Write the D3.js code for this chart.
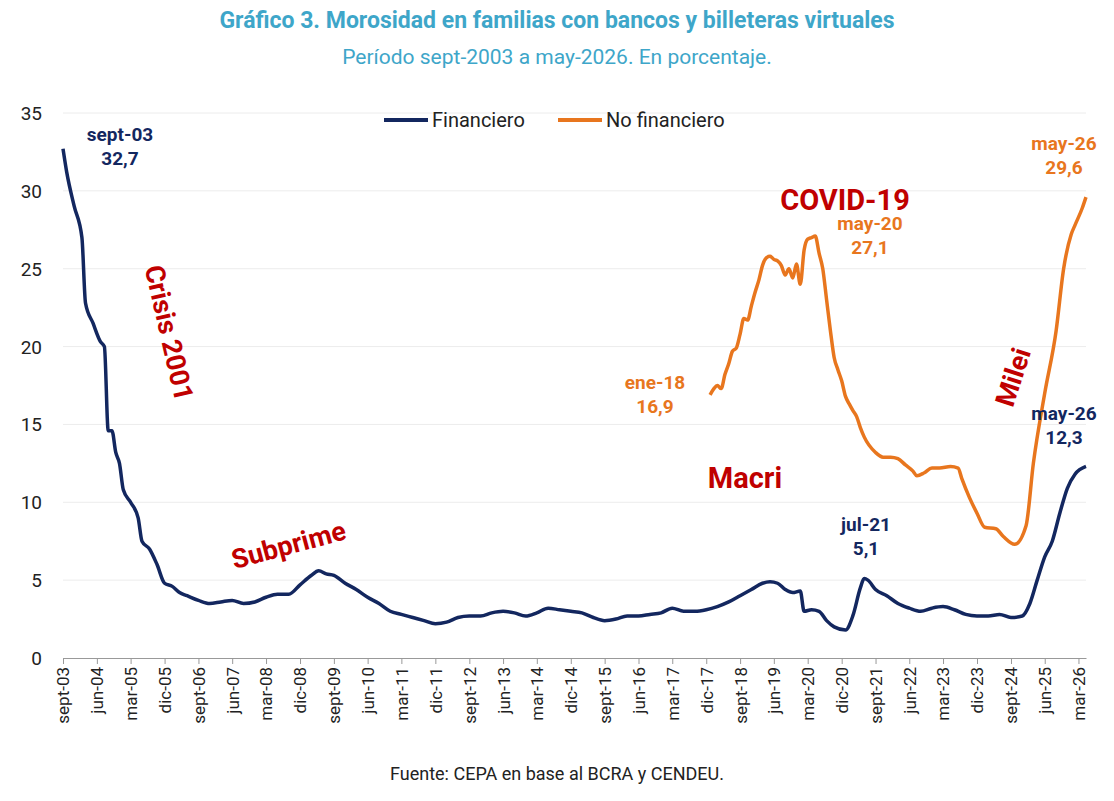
<!DOCTYPE html>
<html><head><meta charset="utf-8">
<script src="https://cdn.jsdelivr.net/npm/d3@7"></script>
<style>body{margin:0;background:#fff;font-family:Roboto,sans-serif;}</style>
</head><body>
<script>
// data
const finDates = ['2003-09','2003-10','2003-12','2004-02','2004-03','2004-05','2004-07','2004-08','2004-09','2004-10','2004-11','2004-12','2005-01','2005-03','2005-05','2005-06','2005-08','2005-10','2005-12','2006-02','2006-04','2006-06','2006-09','2006-12','2007-03','2007-06','2007-09','2007-12','2008-03','2008-06','2008-09','2008-12','2009-03','2009-05','2009-07','2009-09','2009-12','2010-03','2010-06','2010-09','2010-12','2011-03','2011-06','2011-09','2011-12','2012-03','2012-06','2012-09','2012-12','2013-03','2013-06','2013-09','2013-12','2014-03','2014-06','2014-09','2014-12','2015-03','2015-06','2015-09','2015-12','2016-03','2016-06','2016-09','2016-12','2017-03','2017-06','2017-09','2017-12','2018-03','2018-06','2018-09','2018-12','2019-03','2019-05','2019-07','2019-09','2019-11','2020-01','2020-02','2020-04','2020-06','2020-08','2020-10','2021-01','2021-03','2021-05','2021-06','2021-07','2021-09','2021-12','2022-03','2022-06','2022-09','2022-12','2023-03','2023-06','2023-09','2023-12','2024-03','2024-06','2024-09','2024-12','2025-02','2025-04','2025-06','2025-08','2025-10','2025-12','2026-02','2026-05'];
const finValues = [32.7,31.2,29.0,27.0,22.8,21.5,20.3,20.0,14.6,14.6,13.2,12.5,10.8,10.0,9.0,7.5,7.0,6.0,4.8,4.6,4.2,4.0,3.7,3.5,3.6,3.7,3.5,3.6,3.9,4.1,4.1,4.7,5.3,5.6,5.4,5.3,4.8,4.4,3.9,3.5,3.0,2.8,2.6,2.4,2.2,2.3,2.6,2.7,2.7,2.9,3.0,2.9,2.7,2.9,3.2,3.1,3.0,2.9,2.6,2.4,2.5,2.7,2.7,2.8,2.9,3.2,3.0,3.0,3.1,3.3,3.6,4.0,4.4,4.8,4.9,4.8,4.4,4.2,4.3,3.0,3.1,3.0,2.4,2.0,1.8,2.7,4.5,5.1,5.0,4.4,4.0,3.5,3.2,3.0,3.2,3.3,3.1,2.8,2.7,2.7,2.8,2.6,2.7,3.5,5.0,6.5,7.5,9.3,10.9,11.8,12.3];
const noFinDates = ['2018-01','2018-02','2018-03','2018-04','2018-05','2018-06','2018-07','2018-08','2018-09','2018-10','2018-11','2018-12','2019-01','2019-02','2019-03','2019-04','2019-05','2019-06','2019-07','2019-08','2019-09','2019-10','2019-11','2019-12','2020-01','2020-02','2020-03','2020-04','2020-05','2020-06','2020-07','2020-08','2020-09','2020-10','2020-11','2020-12','2021-01','2021-02','2021-03','2021-04','2021-05','2021-06','2021-09','2021-11','2022-01','2022-03','2022-05','2022-07','2022-08','2022-10','2022-12','2023-02','2023-05','2023-07','2023-08','2023-10','2023-12','2024-02','2024-05','2024-07','2024-10','2025-01','2025-03','2025-06','2025-09','2025-11','2026-01','2026-02','2026-04','2026-05'];
const noFinValues = [16.9,17.3,17.5,17.3,18.2,18.9,19.7,19.9,20.8,21.8,21.7,22.6,23.5,24.3,25.2,25.7,25.8,25.6,25.5,25.2,24.6,25.0,24.4,25.3,24.0,26.2,26.9,27.0,27.1,26.0,25.0,23.0,21.0,19.3,18.5,17.8,16.8,16.3,15.9,15.5,14.8,14.2,13.2,12.9,12.9,12.8,12.4,12.0,11.7,11.9,12.2,12.2,12.3,12.2,11.5,10.3,9.3,8.4,8.3,7.8,7.3,8.5,12.5,17,21,25,27.2,27.8,28.9,29.6];
const yTicks = [0,5,10,15,20,25,30,35];
const monthNames = ['ene','feb','mar','abr','may','jun','jul','ago','sept','oct','nov','dic'];

const W = 1114, H = 801;
const m = {left: 63, right: 1086, top: 113, bottom: 658};
const parse = d3.timeParse('%Y-%m');
const svg = d3.select('body').append('svg').attr('width', W).attr('height', H);

const x = d3.scaleTime().domain([parse('2003-09'), parse('2026-05')]).range([m.left, m.right]);
const y = d3.scaleLinear().domain([0, 35]).range([m.bottom, m.top]);

// grid
svg.append('g').selectAll('line').data(yTicks.slice(1)).enter().append('line')
    .attr('x1', m.left).attr('x2', m.right)
    .attr('y1', d => y(d)).attr('y2', d => y(d))
    .attr('stroke', '#ececec');

svg.append('g').selectAll('text').data(yTicks).enter().append('text')
    .attr('x', 42).attr('y', d => y(d) + 7).attr('text-anchor', 'end')
    .attr('font-size', 19).attr('fill', '#222').text(d => d);

// x axis, ticks every 9 months
const xTicks = d3.timeMonth.every(1).range(parse('2003-09'), parse('2026-06')).filter((d, i) => i % 9 === 0);
const fmt = d => monthNames[d.getMonth()] + '-' + String(d.getFullYear()).slice(2);
const xAxis = svg.append('g').attr('transform', `translate(0,${m.bottom})`)
    .call(d3.axisBottom(x).tickValues(xTicks).tickFormat(fmt).tickSize(6).tickSizeOuter(0));
xAxis.select('.domain').attr('stroke', '#999');
xAxis.selectAll('.tick line').attr('stroke', '#999');
xAxis.selectAll('text')
    .attr('transform', 'rotate(-90)').attr('text-anchor', 'end')
    .attr('x', -9).attr('y', 0).attr('dy', '0.35em')
    .attr('font-size', 17).attr('font-family', 'Roboto').attr('fill', '#222');

const line = d3.line().x(d => x(d[0])).y(d => y(d[1])).curve(d3.curveMonotoneX);
const fin = finDates.map((d, i) => [parse(d), finValues[i]]);
const noFin = noFinDates.map((d, i) => [parse(d), noFinValues[i]]);
const navy = '#13275f', orange = '#e8761e', red = '#c00000';

svg.append('path').attr('d', line(fin)).attr('fill', 'none').attr('stroke', navy).attr('stroke-width', 3.5);
svg.append('path').attr('d', line(noFin)).attr('fill', 'none').attr('stroke', orange).attr('stroke-width', 3.5);

// titles
svg.append('text').attr('x', 557).attr('y', 28).attr('text-anchor', 'middle')
    .attr('font-size', 23).attr('font-weight', 'bold').attr('fill', '#3ea6c9')
    .text('Gráfico 3. Morosidad en familias con bancos y billeteras virtuales');
svg.append('text').attr('x', 557).attr('y', 64).attr('text-anchor', 'middle')
    .attr('font-size', 21).attr('fill', '#3ea6c9')
    .text('Período sept-2003 a may-2026. En porcentaje.');
svg.append('text').attr('x', 557).attr('y', 780).attr('text-anchor', 'middle')
    .attr('font-size', 18).attr('fill', '#222')
    .text('Fuente: CEPA en base al BCRA y CENDEU.');

// legend
const leg = [['Financiero', navy, 384], ['No financiero', orange, 558]];
leg.forEach(l => {
    svg.append('line').attr('x1', l[2]).attr('x2', l[2] + 44).attr('y1', 120).attr('y2', 120)
        .attr('stroke', l[1]).attr('stroke-width', 4);
    svg.append('text').attr('x', l[2] + 48).attr('y', 127).attr('font-size', 20).attr('fill', '#222').text(l[0]);
});

// value labels
function label(x0, y0, lines, color) {
    lines.forEach((t, i) => svg.append('text').attr('x', x0).attr('y', y0 + i * 24)
        .attr('text-anchor', 'middle').attr('font-size', 19).attr('font-weight', 'bold')
        .attr('fill', color).text(t));
}
label(120, 141, ['sept-03', '32,7'], navy);
label(655, 389, ['ene-18', '16,9'], orange);
label(870, 230, ['may-20', '27,1'], orange);
label(866, 531, ['jul-21', '5,1'], navy);
label(1064, 150, ['may-26', '29,6'], orange);
label(1064, 420, ['may-26', '12,3'], navy);

// event labels
function ev(x0, y0, t, rot, size) {
    svg.append('text').attr('transform', `translate(${x0},${y0}) rotate(${rot})`)
        .attr('text-anchor', 'middle').attr('font-size', size).attr('font-weight', 'bold')
        .attr('fill', red).text(t);
}
ev(160, 335, 'Crisis 2001', 77, 27);
ev(291, 554, 'Subprime', -15, 27);
ev(845, 210, 'COVID-19', 0, 29);
ev(745, 488, 'Macri', 0, 29);
ev(1022, 380, 'Milei', -72, 27);
</script>
</body></html>
